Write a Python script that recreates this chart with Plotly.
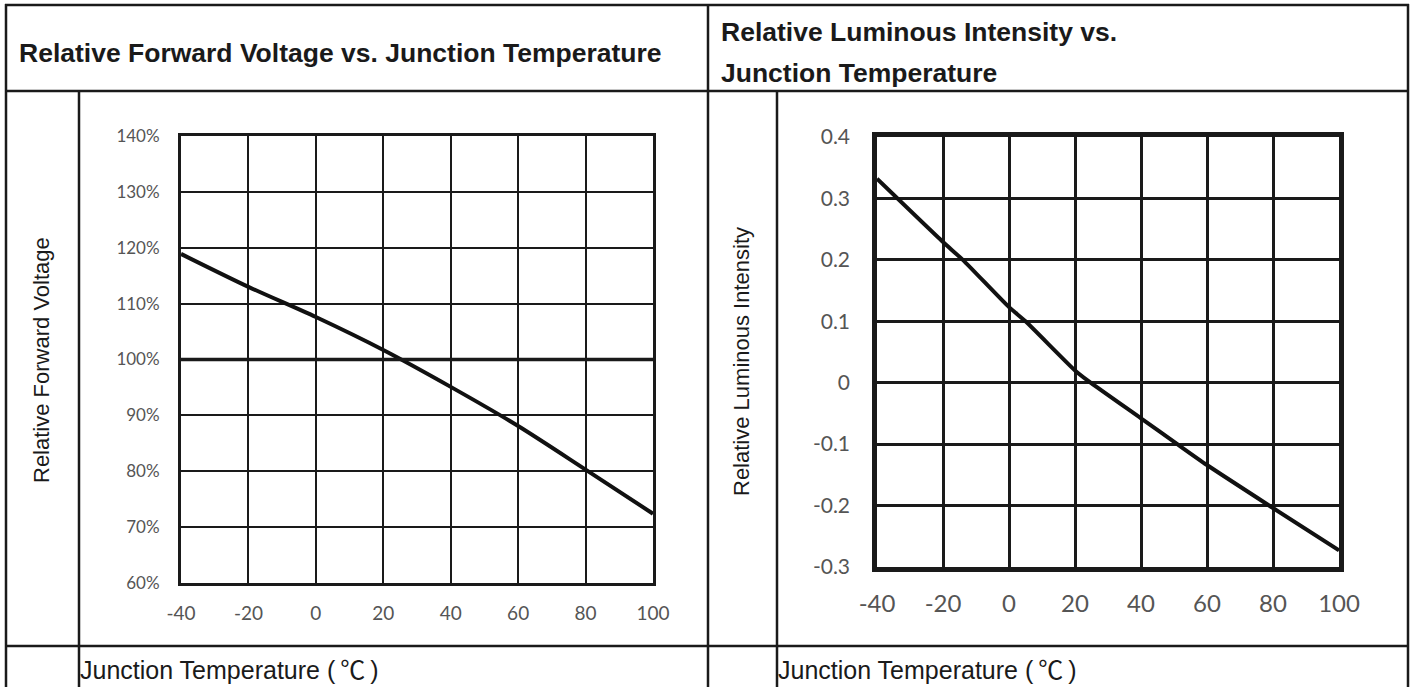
import plotly.graph_objects as go

W, H = 1416, 687

# ---- data ----
temp_v = [-40, -20, 0, 20, 40, 60, 80, 100]
volt_pct = [118.9, 113.0, 107.6, 101.7, 95.1, 88.1, 80.3, 72.4]

temp_l = [-40, -20, -14, 0, 5, 20, 24, 40, 51, 60, 80, 100]
lum_rel = [0.332, 0.229, 0.200, 0.123, 0.100, 0.020, 0.003, -0.058, -0.100, -0.134, -0.204, -0.273]

x_ticks = [-40, -20, 0, 20, 40, 60, 80, 100]
x_ticktext = ["-40", "-20", "0", "20", "40", "60", "80", "100"]
v_ticks = [60, 70, 80, 90, 100, 110, 120, 130, 140]
v_ticktext = ["60%", "70%", "80%", "90%", "100%", "110%", "120%", "130%", "140%"]
l_ticks = [-0.3, -0.2, -0.1, 0, 0.1, 0.2, 0.3, 0.4]
l_ticktext = ["-0.3", "-0.2", "-0.1", "0", "0.1", "0.2", "0.3", "0.4"]

title_left = "Relative Forward Voltage vs. Junction Temperature"
title_right_1 = "Relative Luminous Intensity vs."
title_right_2 = "Junction Temperature"
ytitle_left = "Relative Forward Voltage"
ytitle_right = "Relative Luminous Intensity"
xtitle = "Junction Temperature (\u2009<span style='font-family:Noto Sans CJK SC'>\u2103</span>\u2009)"

def px(x):
    return x / W

def py(y):
    return 1 - y / H

INK = "#1a1a1a"
TICK = "#555555"

fig = go.Figure()
fig.add_trace(go.Scatter(x=temp_v, y=volt_pct, mode="lines", line=dict(color="#111111", width=4, shape="spline", smoothing=0.8),
                         xaxis="x", yaxis="y", showlegend=False, hoverinfo="x+y"))
fig.add_trace(go.Scatter(x=temp_l, y=lum_rel, mode="lines", line=dict(color="#111111", width=4, shape="spline", smoothing=0.6),
                         xaxis="x2", yaxis="y2", showlegend=False, hoverinfo="x+y"))

# ---- axes ----
common_x = dict(range=[-40, 100], tickvals=x_ticks, ticktext=x_ticktext, showgrid=True, gridcolor=INK,
                zeroline=False, showline=True, mirror=True, linecolor=INK, ticks="", fixedrange=True,
                automargin=False)
fig.update_layout(
    template="none",
    xaxis=dict(domain=[px(181), px(653)], anchor="y", gridwidth=2, linewidth=3,
               tickfont=dict(family="Lato", size=19, color=TICK), ticklabelstandoff=11, **common_x),
    yaxis=dict(domain=[py(583), py(136)], anchor="x", range=[60, 140], tickvals=v_ticks, ticktext=v_ticktext,
               showgrid=True, gridcolor=INK, gridwidth=2, zeroline=False, showline=True, mirror=True,
               linecolor=INK, linewidth=3, ticks="", tickfont=dict(family="Lato", size=17, color=TICK),
               ticklabelstandoff=15, fixedrange=True, automargin=False),
    xaxis2=dict(domain=[px(877), px(1339)], anchor="y2", gridwidth=2.5, linewidth=4.5,
                tickfont=dict(family="Lato", size=24, color=TICK), ticklabelstandoff=11, **common_x),
    yaxis2=dict(domain=[py(567), py(137)], anchor="x2", range=[-0.3, 0.4], tickvals=l_ticks, ticktext=l_ticktext,
                showgrid=True, gridcolor=INK, gridwidth=2.5, zeroline=False, showline=True, mirror=True,
                linecolor=INK, linewidth=4.5, ticks="", tickfont=dict(family="Lato", size=21, color=TICK),
                ticklabelstandoff=18, fixedrange=True, automargin=False),
)

# thicker 100% reference line in left chart
fig.add_shape(type="line", xref="x", yref="y", x0=-40, x1=100, y0=100, y1=100, line=dict(color=INK, width=3.5))

# ---- table lines ----
def hline(y, x0, x1, w=2.5):
    fig.add_shape(type="line", xref="paper", yref="paper", x0=px(x0), x1=px(x1), y0=py(y), y1=py(y),
                  line=dict(color=INK, width=w))

def vline(x, y0, y1, w=2.5):
    fig.add_shape(type="line", xref="paper", yref="paper", x0=px(x), x1=px(x), y0=py(y0), y1=py(y1),
                  line=dict(color=INK, width=w))

hline(5, 5, 1409)
hline(91, 5, 1409)
hline(646, 5, 1409)
vline(6, 4, 690)
vline(1408, 4, 690)
vline(708, 4, 690)
vline(79, 91, 690)
vline(777, 91, 690)

# ---- texts ----
def text(x, y, s, size, bold=False, angle=0, xanchor="left"):
    fig.add_annotation(xref="paper", yref="paper", x=px(x), y=py(y), text=f"<b>{s}</b>" if bold else s,
                       showarrow=False, xanchor=xanchor, yanchor="middle", textangle=angle,
                       font=dict(family="Liberation Sans, Arial", size=size, color=INK))

text(17, 53, title_left, 26.5, bold=True)
text(719, 32, title_right_1, 26.5, bold=True)
text(719, 73, title_right_2, 26.5, bold=True)
text(41, 360, ytitle_left, 22, angle=-90, xanchor="center")
text(741, 362, ytitle_right, 22, angle=-90, xanchor="center")
text(78, 668, xtitle, 25)
text(776, 668, xtitle, 25)

fig.update_layout(width=W, height=H, margin=dict(l=0, r=0, t=0, b=0, pad=0), paper_bgcolor="white",
                  plot_bgcolor="white", showlegend=False)

fig.write_html("out.html", config={"displayModeBar": False},
               post_script="document.body.style.margin='0';document.body.style.overflow='hidden';")
